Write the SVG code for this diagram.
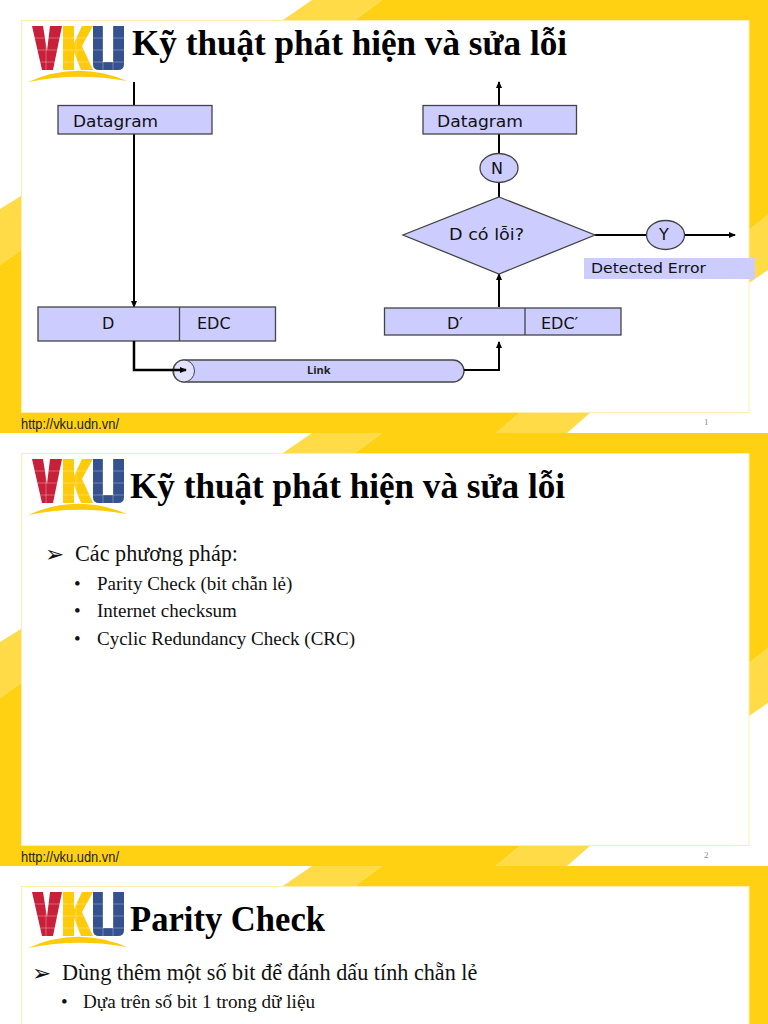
<svg xmlns="http://www.w3.org/2000/svg" xmlns:xlink="http://www.w3.org/1999/xlink" width="768" height="1024" viewBox="0 0 768 1024">
<style>
.dark{fill:#ffd112}.light{fill:#ffdb47}
.box{fill:#ccccff;stroke:#444;stroke-width:1.3}
.cn{fill:none;stroke:#000;stroke-width:2}
.lbl{font-family:"DejaVu Sans",sans-serif;font-size:16px;fill:#111}
.title{font-family:"Liberation Serif","Times New Roman",serif;font-weight:bold;font-size:35px;fill:#000}
.url{font-family:"Liberation Sans",Arial,sans-serif;font-size:14px;fill:#222}
.pg{font-family:"Liberation Serif",serif;font-size:9px;fill:#888}
.l1{font-family:"Liberation Serif",serif;font-size:22.2px;fill:#111}
.l2{font-family:"Liberation Serif",serif;font-size:19px;fill:#111}
.bl{font-family:"DejaVu Sans",sans-serif;font-size:23px;fill:#111}
</style>
<defs>
<marker id="a" markerWidth="7" markerHeight="6" refX="6" refY="3" orient="auto" markerUnits="userSpaceOnUse"><path d="M0 0L7 3L0 6z" fill="#000"/></marker>
<g id="slidebg">
<rect x="0" y="0" width="768" height="433" fill="#fff"/>
<polygon class="dark" points="382,0 768,0 768,215 749,230 749,20 355,20"/>
<polygon class="light" points="312,0 382,0 355,20 283,20"/>
<polygon class="light" points="749,230 768,215 768,270 749,283"/>
<polygon class="light" points="0,209 21,196 21,250 0,265"/>
<polygon class="dark" points="0,265 21,250 21,412 521,412 496,433 0,433"/>
<polygon class="light" points="521,412 591,412 567,433 496,433"/>
<rect x="21.5" y="20.5" width="727.5" height="392" fill="#fff" stroke="#ffeeaa"/>
</g>
<g id="logo">
<polygon fill="#c8203a" points="32,26 43,26 47,51 50,26 62,26 53,70 42,70"/>
<polygon fill="#ffca0a" points="63,26 74,26 74,43 82,26 93,26 82,46 93,70 81,70 74,52 74,70 63,70"/>
<path fill="#35518f" d="M93,26H103V62H113V26H124V64Q124,70 118,70H99Q93,70 93,64Z"/>
<path fill="none" stroke="#fff" stroke-opacity=".3" d="M32,38H124M32,50H124M32,62H124M46,26V70M76,26V70M103,26V70M113,26V70"/>
<path fill="#ffca0a" d="M28,82Q77,60 127,81Q77,72 28,82Z"/>
</g>
</defs>
<rect width="768" height="1024" fill="#fff"/>
<use xlink:href="#slidebg" href="#slidebg"/>
<use xlink:href="#slidebg" href="#slidebg" y="433"/>
<use xlink:href="#slidebg" href="#slidebg" y="866"/>
<use xlink:href="#logo" href="#logo"/>
<use xlink:href="#logo" href="#logo" y="433"/>
<use xlink:href="#logo" href="#logo" y="866"/>
<text class="title" x="132" y="55" textLength="435" lengthAdjust="spacingAndGlyphs">Kỹ thuật phát hiện và sửa lỗi</text>
<text class="url" x="21" y="429" textLength="98" lengthAdjust="spacingAndGlyphs">http://vku.udn.vn/</text>
<text class="pg" x="704" y="425">1</text>
<g id="connectors">
<path class="cn" d="M134,82V307" marker-end="url(#a)"/>
<path class="cn" d="M499,197V82" marker-end="url(#a)"/>
<path class="cn" d="M499,307V274" marker-end="url(#a)"/>
<path class="cn" d="M595,235H735" marker-end="url(#a)"/>
</g>
<g id="n-datagram-l"><rect class="box" x="58" y="105.5" width="154" height="28.5"/><text class="lbl" x="73" y="127" textLength="85" lengthAdjust="spacingAndGlyphs">Datagram</text></g>
<g id="n-datagram-r"><rect class="box" x="423" y="105.5" width="153.500" height="28.500"/><text class="lbl" x="437" y="127" textLength="86" lengthAdjust="spacingAndGlyphs">Datagram</text></g>
<g id="n-n"><ellipse class="box" cx="499" cy="168" rx="19" ry="14.500"/><text class="lbl" x="497" y="174" text-anchor="middle">N</text></g>
<g id="n-decision"><polygon class="box" points="499,197 595,235 499,274 403,235"/><text class="lbl" x="449" y="240" textLength="75" lengthAdjust="spacingAndGlyphs">D có lỗi?</text></g>
<g id="n-y"><ellipse class="box" cx="665.500" cy="235" rx="19" ry="14.500"/><text class="lbl" x="664" y="240" text-anchor="middle">Y</text></g>
<g id="n-detected"><rect x="584" y="258" width="171" height="21" fill="#ccccff"/><text class="lbl" x="591" y="273" style="font-size:14px" textLength="115" lengthAdjust="spacingAndGlyphs">Detected Error</text></g>
<g id="n-d"><rect class="box" x="38" y="307" width="237.500" height="34"/><path class="box" d="M179.500,307V341"/><text class="lbl" x="102" y="329">D</text><text class="lbl" x="197" y="329">EDC</text></g>
<g id="n-dp"><rect class="box" x="384.500" y="308" width="236.500" height="27"/><path class="box" d="M525,308V335"/><text class="lbl" x="447" y="329">D′</text><text class="lbl" x="541" y="329">EDC′</text></g>
<g id="n-link"><rect class="box" x="173" y="360" width="291" height="22" rx="11"/><ellipse cx="184" cy="371" rx="10.500" ry="11" fill="#e2e2ff" stroke="#444"/><text x="307" y="374" style="font-family:'Open Sans',sans-serif;font-weight:bold;font-size:11px" fill="#222">Link</text></g>
<g id="connectors2">
<path class="cn" style="stroke-width:2.500" d="M134,341V370H186" marker-end="url(#a)"/>
<path class="cn" d="M464,370H499V342" marker-end="url(#a)"/>
</g>
<text class="title" x="130" y="498" textLength="435" lengthAdjust="spacingAndGlyphs">Kỹ thuật phát hiện và sửa lỗi</text>
<text class="bl" x="45" y="562">➢</text>
<text class="l1" x="75" y="561">Các phương pháp:</text>
<text class="l2" x="74" y="590">•</text><text class="l2" x="97" y="590">Parity Check (bit chẵn lẻ)</text>
<text class="l2" x="74" y="617">•</text><text class="l2" x="97" y="617">Internet checksum</text>
<text class="l2" x="74" y="645">•</text><text class="l2" x="97" y="645">Cyclic Redundancy Check (CRC)</text>
<text class="url" x="21" y="862" textLength="98" lengthAdjust="spacingAndGlyphs">http://vku.udn.vn/</text>
<text class="pg" x="704" y="858">2</text>
<text class="title" x="130" y="931" textLength="195" lengthAdjust="spacingAndGlyphs">Parity Check</text>
<text class="bl" x="32" y="981">➢</text>
<text class="l1" x="62" y="980">Dùng thêm một số bit để đánh dấu tính chẵn lẻ</text>
<text class="l2" x="61" y="1008">•</text><text class="l2" x="83" y="1008" textLength="232" lengthAdjust="spacingAndGlyphs">Dựa trên số bit 1 trong dữ liệu</text>
</svg>
